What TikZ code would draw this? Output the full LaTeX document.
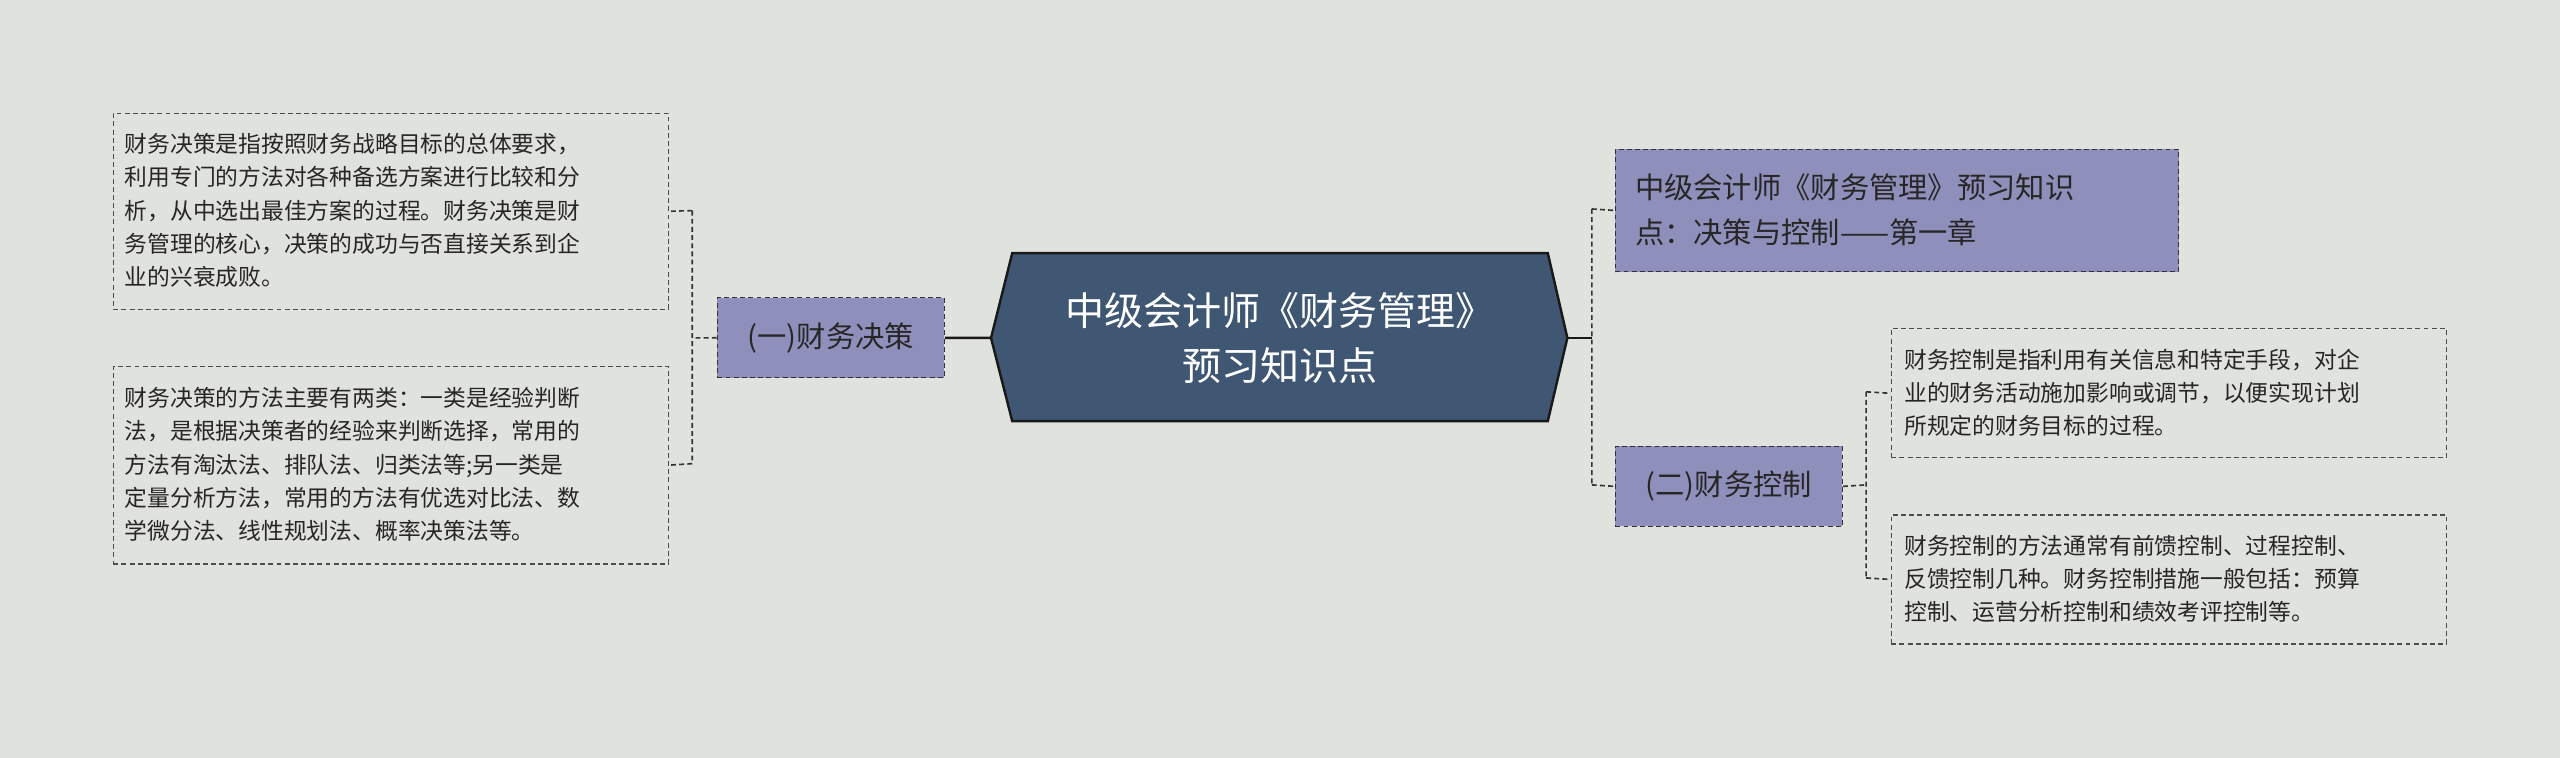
\documentclass[tikz,border=0pt]{standalone}
\usepackage{fontspec}
\setmainfont{Noto Sans CJK SC}
\begin{document}
\begin{tikzpicture}[x=1bp,y=-1bp,
  leaf/.style={draw=black!70,dashed,dash pattern=on 3bp off 2bp,line width=0.8bp,align=left,anchor=north west,inner sep=0pt,text=black!85,font=\fontsize{14}{20.5}\selectfont},
  mid/.style={draw=black!80,dashed,dash pattern=on 3bp off 2bp,line width=0.8bp,fill=blue!25!gray!70!white,anchor=north west,inner sep=0pt,text=black!85,font=\fontsize{18}{25}\selectfont},
  con/.style={draw=black!80,line width=1bp,dashed,dash pattern=on 3bp off 2bp}]
\fill[fill={rgb,255:red,224;green,226;blue,222}] (0,0) rectangle (1568,464);
\useasboundingbox (0,0) rectangle (1568,464);
% centre
\draw[fill={rgb,255:red,63;green,87;blue,115},draw=black!90,line width=1.5bp] (620,155)--(948,155)--(960,207)--(948,258)--(620,258)--(607,207)--cycle;
\node[text=white,align=center,font=\fontsize{24}{34}\selectfont] (c) at (784,207) {中级会计师《财务管理》\\预习知识点};
\coordinate (cl) at (607,207); \coordinate (cr) at (960,207);
% left
\node[mid,minimum width=139bp,minimum height=49bp] (l) at (439,182) {};
\node at (l.center) [text=black!85,font=\fontsize{18}{25}\selectfont] {(一)财务决策};
\node[leaf,minimum width=340bp,minimum height=120bp] (l1) at (69,69) {};
\node[leaf,draw=none,anchor=west,text width=330bp] at (76,129) {财务决策是指按照财务战略目标的总体要求，\\利用专门的方法对各种备选方案进行比较和分\\析，从中选出最佳方案的过程。财务决策是财\\务管理的核心，决策的成功与否直接关系到企\\业的兴衰成败。};
\node[leaf,minimum width=340bp,minimum height=121bp] (l2) at (69,224) {};
\node[leaf,draw=none,anchor=west,text width=330bp] at (76,284.5) {财务决策的方法主要有两类：一类是经验判断\\法，是根据决策者的经验来判断选择，常用的\\方法有淘汰法、排队法、归类法等;另一类是\\定量分析方法，常用的方法有优选对比法、数\\学微分法、线性规划法、概率决策法等。};
\draw[black!90,line width=1.5bp] (cl)--(l.east);
\draw[con] (l.west)--(424,207) (424,129)--(424,284) (424,129)--(l1.east) (424,284)--(l2.east);
% right
\node[mid,minimum width=345bp,minimum height=75bp] (r1) at (989,91) {};
\node[anchor=west,align=left,text=black!85,font=\fontsize{18}{28}\selectfont] at (998,128.5) {中级会计师《财务管理》预习知识\\点：决策与控制——第一章};
\node[mid,minimum width=139bp,minimum height=49bp] (r2) at (989,273) {};
\node at (r2.center) [text=black!85,font=\fontsize{18}{25}\selectfont] {(二)财务控制};
\node[leaf,minimum width=340bp,minimum height=79bp] (r3) at (1158,201) {};
\node[leaf,draw=none,anchor=west,text width=335bp] at (1166,240.5) {财务控制是指利用有关信息和特定手段，对企\\业的财务活动施加影响或调节，以便实现计划\\所规定的财务目标的过程。};
\node[leaf,minimum width=340bp,minimum height=79bp] (r4) at (1158,315) {};
\node[leaf,draw=none,anchor=west,text width=335bp] at (1166,354.5) {财务控制的方法通常有前馈控制、过程控制、\\反馈控制几种。财务控制措施一般包括：预算\\控制、运营分析控制和绩效考评控制等。};
\draw[black!90,line width=1.5bp] (cr)--(975,207);
\draw[con] (975,128)--(975,297) (975,128)--(r1.west) (975,297)--(r2.west);
\draw[con] (r2.east)--(1143,297) (1143,240)--(1143,354) (1143,240)--(r3.west) (1143,354)--(r4.west);
\end{tikzpicture}
\end{document}
